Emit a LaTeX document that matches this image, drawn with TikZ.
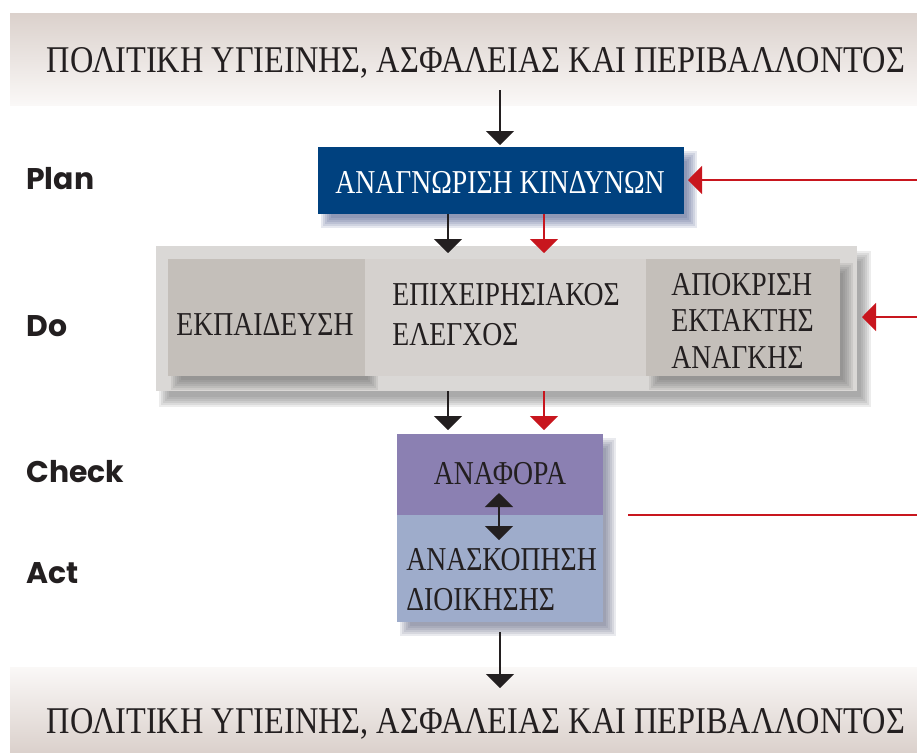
\documentclass[tikz,border=0pt]{standalone}
\usepackage{graphicx}
\usepackage{fontspec}
\setmainfont{Liberation Serif}
\newfontfamily\boxfont[FakeStretch=0.83]{Liberation Serif}
\newfontfamily\bannerfont{Liberation Serif}
\newfontfamily\labfont{Poppins}
\usetikzlibrary{arrows.meta}
\newlength\px
\setlength\px{0.02cm}
\definecolor{planblue}{HTML}{00417F}
\definecolor{planshadow}{HTML}{2E3F78}
\definecolor{doouter}{HTML}{DAD8D6}
\definecolor{dodark}{HTML}{C4BFBA}
\definecolor{domid}{HTML}{D5D1CE}
\definecolor{checkc}{HTML}{8B80B2}
\definecolor{actc}{HTML}{9EACCB}
\definecolor{redc}{HTML}{C8161E}
\definecolor{arrowblack}{HTML}{231F20}
\definecolor{textdark}{HTML}{231F20}
\definecolor{bannerdark}{HTML}{DBD1CC}
\definecolor{bannerlight}{HTML}{FAF8F7}
\definecolor{greyshadow}{HTML}{606060}
\definecolor{blueshadow}{HTML}{4A5070}
\newcommand\softshadow[7]{%
  \foreach \k in {0,1,...,5}{%
    \fill[#5,opacity=0.12] ({#1+#6-5+\k*2},{#2+#7-5+\k*2}) rectangle ({#3+#6+5-\k*2},{#4+#7+5-\k*2});
  }}
\begin{document}
\begin{tikzpicture}[x=0.02cm,y=-0.02cm,
  box/.style={draw=none, inner sep=0pt, outer sep=0pt},
  txt/.style={inner sep=0pt, align=left, font=\boxfont\fontsize{19}{22.7}\selectfont, text=textdark},
  lab/.style={anchor=base west, inner sep=0pt, font=\labfont\bfseries\fontsize{17}{20}\selectfont, text=textdark},
  arr/.style={line width=0.04cm, draw=arrowblack, -{Triangle[width=0.56cm,length=0.28cm]}},
  redarr/.style={line width=0.04cm, draw=redc, -{Triangle[width=0.56cm,length=0.28cm]}},
  dblarr/.style={line width=0.04cm, draw=arrowblack, {Triangle[width=0.56cm,length=0.28cm]}-{Triangle[width=0.56cm,length=0.28cm]}},
  redline/.style={line width=0.04cm, draw=redc},
  bannertxt/.style={inner sep=0pt, anchor=base, text=textdark}
]
\useasboundingbox (0,0) rectangle (917,752);

% banners
\node[box, top color=bannerdark, bottom color=bannerlight, minimum width=907\px, minimum height=92\px] (topbanner) at (463.5,59) {};
\node[bannertxt] (toptext) at (476,72) {\resizebox{858\px}{25\px}{\bannerfont ΠΟΛΙΤΙΚΗ ΥΓΙΕΙΝΗΣ, ΑΣΦΑΛΕΙΑΣ ΚΑΙ ΠΕΡΙΒΑΛΛΟΝΤΟΣ}};
\node[box, top color=bannerlight, bottom color=bannerdark, minimum width=907\px, minimum height=85\px] (botbanner) at (463.5,709.5) {};
\node[bannertxt] (bottext) at (476,733) {\resizebox{858\px}{25\px}{\bannerfont ΠΟΛΙΤΙΚΗ ΥΓΙΕΙΝΗΣ, ΑΣΦΑΛΕΙΑΣ ΚΑΙ ΠΕΡΙΒΑΛΛΟΝΤΟΣ}};

% labels
\node[lab] (lplan) at (26,189) {Plan};
\node[lab] (ldo) at (26,336) {Do};
\node[lab] (lcheck) at (26,482) {Check};
\node[lab] (lact) at (26,583) {Act};

% shadows
\softshadow{318}{147}{684}{214}{planshadow}{8}{9}
\softshadow{160}{250}{862}{396}{greyshadow}{4}{6}
\softshadow{397}{434}{603}{622}{blueshadow}{8}{9}

% plan box
\node[box, fill=planblue, minimum width=366\px, minimum height=67\px] (plan) at (501,180.5) {};
\node[txt, text=white] (plantext) at (500,182.5) {ΑΝΑΓΝΩΡΙΣΗ ΚΙΝΔΥΝΩΝ};

% do group
\node[box, fill=doouter, minimum width=701\px, minimum height=145\px] (doouter) at (506.5,318.5) {};
\softshadow{168}{259}{365}{376}{greyshadow}{8}{9}
\softshadow{646}{259}{840}{376}{greyshadow}{8}{9}
\node[box, fill=domid, minimum width=281\px, minimum height=117\px] (domid) at (505.5,317.5) {};
\node[box, fill=dodark, minimum width=197\px, minimum height=117\px] (doleft) at (266.5,317.5) {};
\node[box, fill=dodark, minimum width=194\px, minimum height=117\px] (doright) at (743,317.5) {};
\node[txt, anchor=center] (tleft) at (265,324) {ΕΚΠΑΙΔΕΥΣΗ};
\node[txt, anchor=west] (tmid) at (392,315) {ΕΠΙΧΕΙΡΗΣΙΑΚΟΣ\\ΕΛΕΓΧΟΣ};
\node[txt, anchor=west, font=\boxfont\fontsize{19}{20.8}\selectfont] (tright) at (671,320.5) {ΑΠΟΚΡΙΣΗ\\ΕΚΤΑΚΤΗΣ\\ΑΝΑΓΚΗΣ};

% check / act
\node[box, fill=checkc, minimum width=206\px, minimum height=81\px] (check) at (500,474.5) {};
\node[box, fill=actc, minimum width=206\px, minimum height=107\px] (act) at (500,568.5) {};
\node[txt, anchor=center] (tcheck) at (500,474) {ΑΝΑΦΟΡΑ};
\node[txt, anchor=west] (tact) at (406,580) {ΑΝΑΣΚΟΠΗΣΗ\\ΔΙΟΙΚΗΣΗΣ};

% coordinates
\coordinate (a0) at (500,90);
\coordinate (rin1) at (917,180);
\coordinate (rin2) at (917,317);
\coordinate (rin3) at (917,515);
\coordinate (rl) at (628,515);
\coordinate (da) at (499,493);
\coordinate (db) at (499,540);
\coordinate (bend) at (500,688);
\coordinate (xb) at (448,0);
\coordinate (xr) at (544,0);

% connectors
\draw[arr, shorten >=0.04cm] (a0) -- (a0 |- plan.north);
\draw[redarr, shorten >=0.08cm] (rin1) -- (plan.east |- rin1);
\draw[arr, shorten >=-0.14cm] (plan.south -| xb) -- (doouter.north -| xb);
\draw[redarr, shorten >=-0.14cm] (plan.south -| xr) -- (doouter.north -| xr);
\draw[redarr, shorten >=0.1cm] (rin2) -- (doouter.east |- rin2);
\draw[arr, shorten >=0.08cm] (doouter.south -| xb) -- (check.north -| xb);
\draw[redarr, shorten >=0.08cm] (doouter.south -| xr) -- (check.north -| xr);
\draw[dblarr] (da) -- (db);
\draw[redline] (rl) -- (rin3);
\draw[arr, shorten <=0.2cm] (act.south) -- (bend);
\end{tikzpicture}
\end{document}
